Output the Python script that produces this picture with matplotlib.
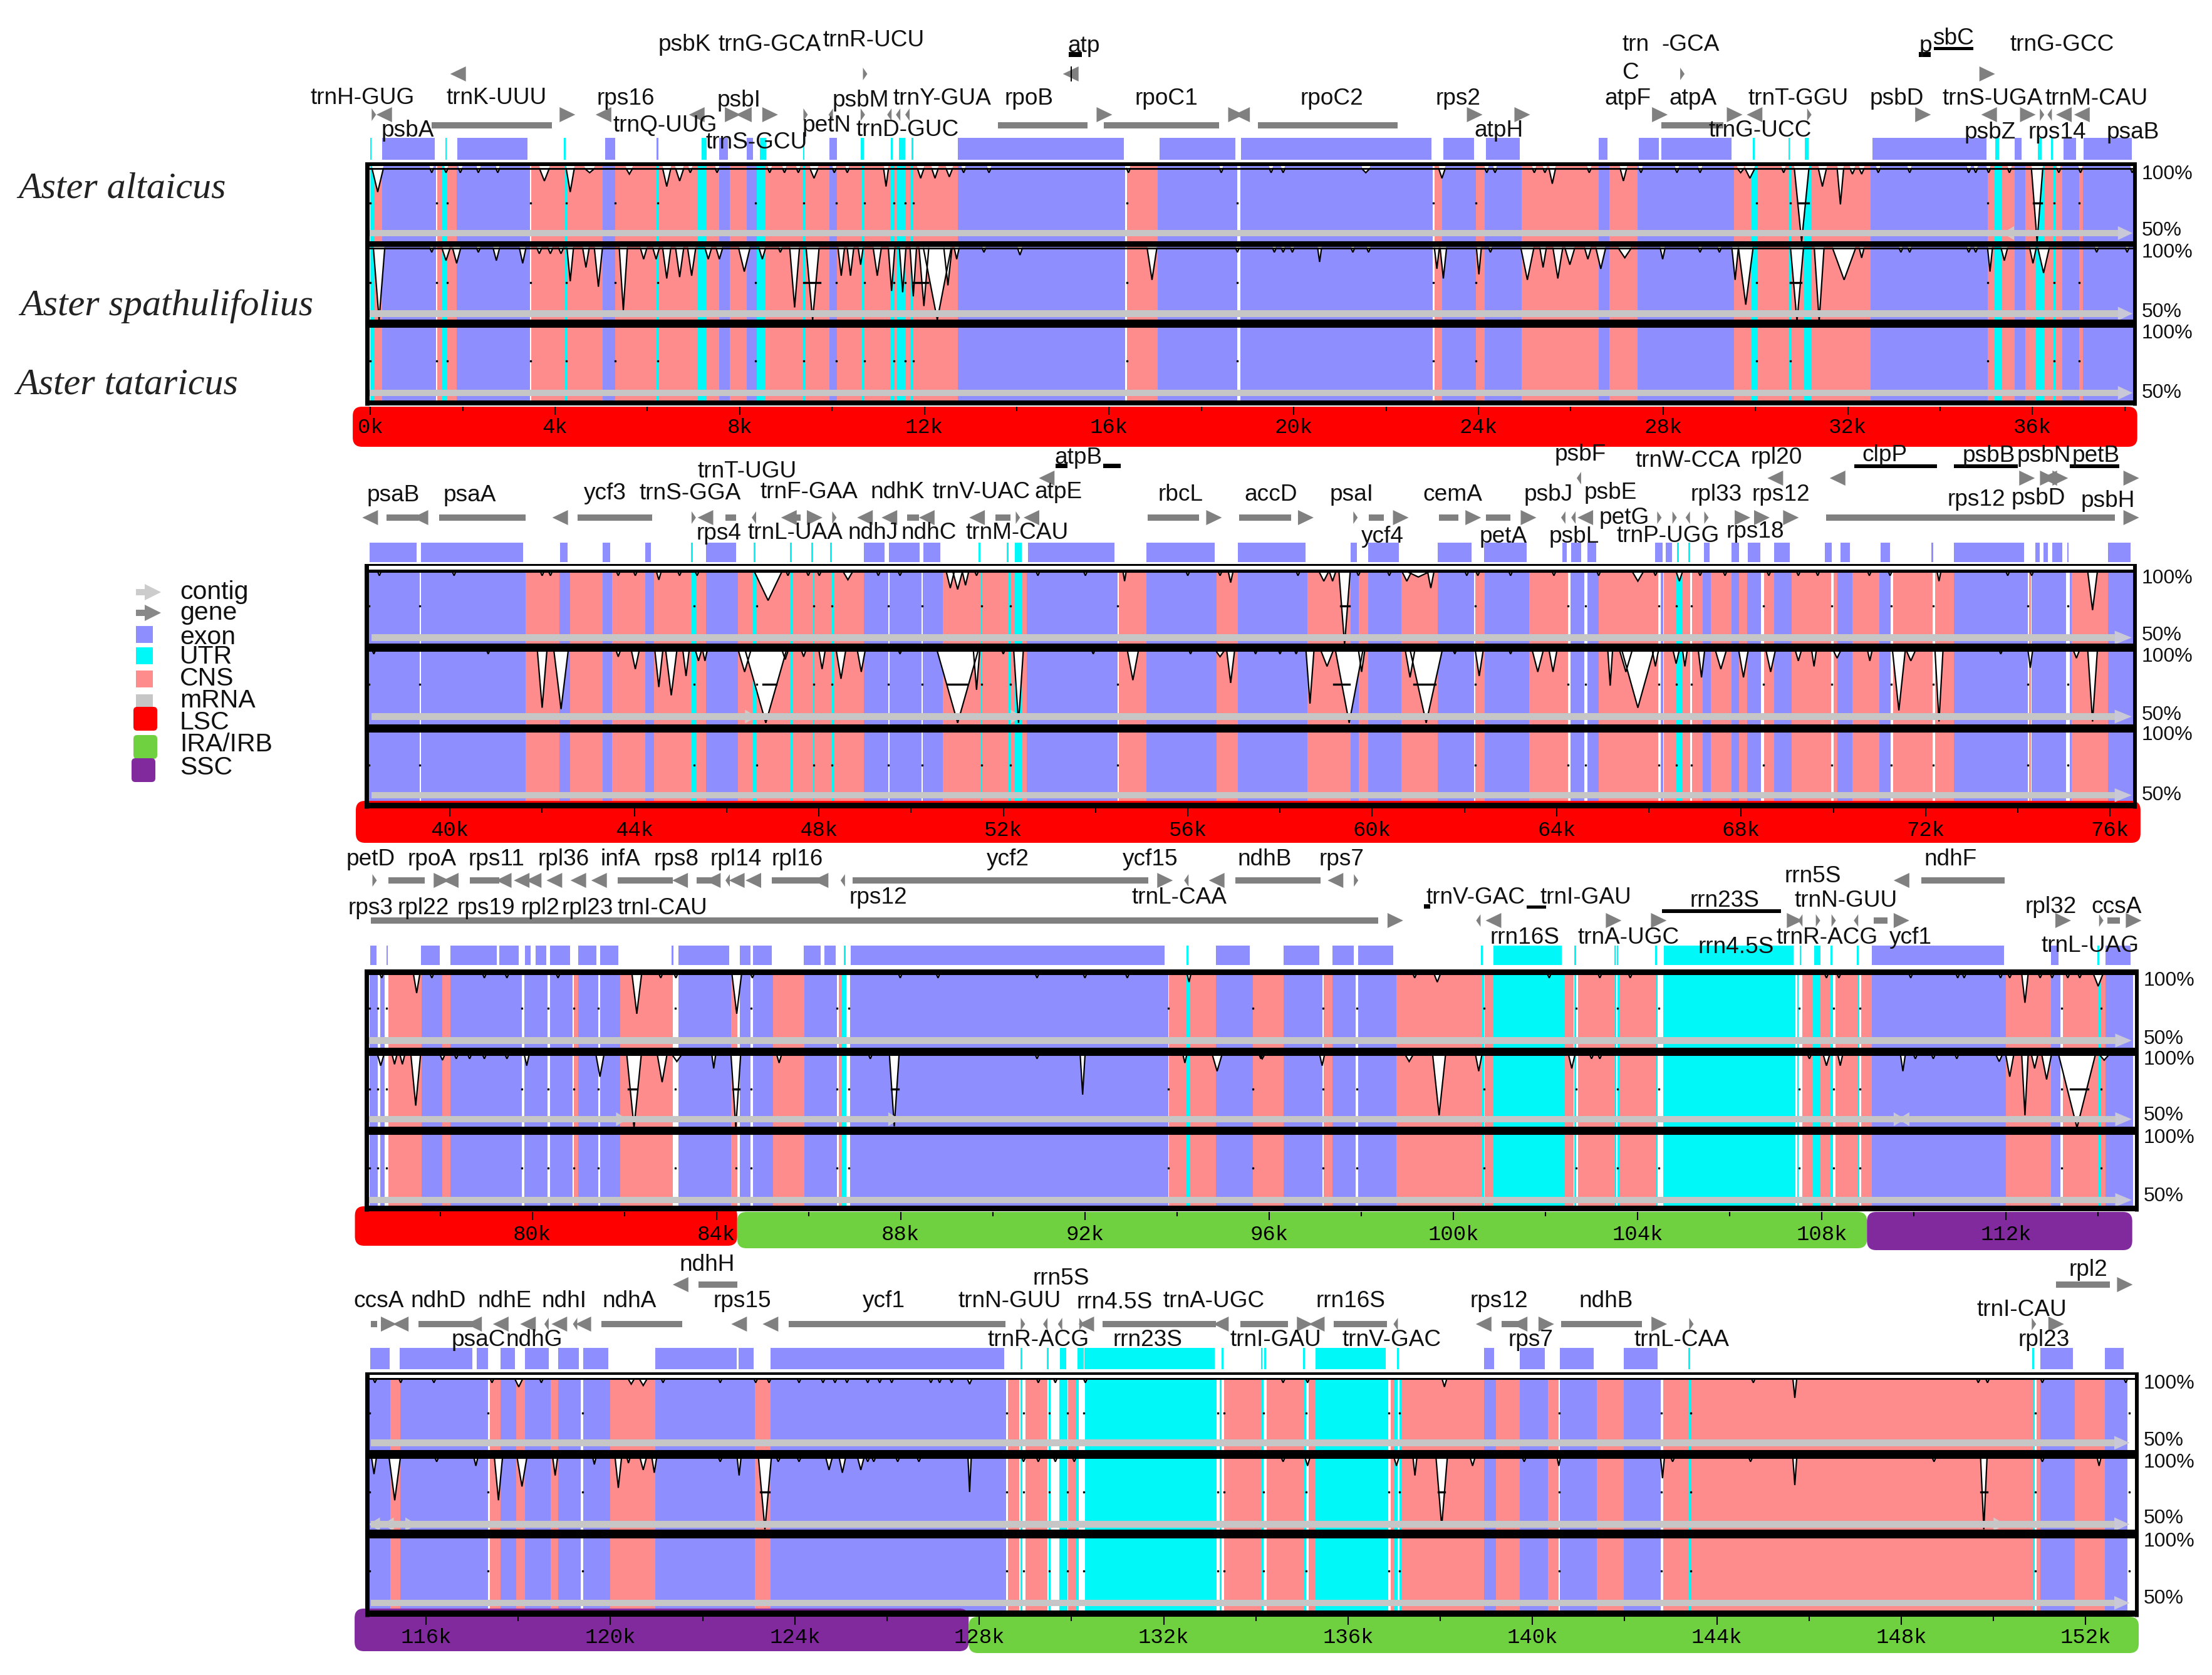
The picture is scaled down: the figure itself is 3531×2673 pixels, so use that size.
import matplotlib
matplotlib.use('Agg')
import matplotlib.pyplot as plt
from matplotlib.patches import Rectangle, FancyBboxPatch, Polygon

W, H = 3531, 2673
PX_PER_KB = 73.7
plt.rcParams['font.family'] = ['Liberation Sans', 'DejaVu Sans']

BLUE = '#8e8eff'
PINK = '#ff8c8c'
CYAN = '#00f8f8'
GREY = '#c6c6c6'
GENE = '#808080'
RED = '#ff0000'
GREEN = '#6fd140'
PURPLE = '#802a9e'

species = ['Aster altaicus', 'Aster spathulifolius', 'Aster tataricus']

# ---------- panel 1 (0k - 38k) ----------
p1_exon = [(0.25,1.42),(1.87,3.46),(5.03,5.31),(7.56,7.79),(8.15,8.37),(9.95,10.11),(12.73,16.35),(17.06,18.78),
           (18.84,23.01),(23.21,23.95),(24.13,24.93),(26.60,26.83),(27.45,29.53),(32.50,35.03),(35.62,35.85),
           (36.64,37.01),(37.09,38.24)]
p1_cns = [(0.08,0.25),(1.45,1.56),(1.67,1.87),(3.49,4.21),(4.27,5.03),(5.31,6.19),(6.25,7.09),(7.28,7.56),(7.79,8.15),
          (8.55,9.36),(9.43,9.95),(10.11,10.64),(10.70,11.26),(11.34,11.40),(11.58,11.70),(11.76,12.73),(16.39,17.06),
          (23.05,23.21),(23.95,24.13),(24.93,26.60),(26.83,27.45),(29.53,29.91),(30.04,30.72),(30.79,31.04),(31.22,32.50),
          (35.03,35.16),(35.34,35.62),(35.85,36.08),(36.27,36.44),(36.50,36.64),(37.01,37.09)]
p1_utr = [(0.0,0.08),(1.56,1.67),(4.21,4.27),(6.19,6.25),(7.09,7.28),(8.37,8.55),(9.36,9.43),(10.64,10.70),(11.26,11.34),
          (11.40,11.58),(11.70,11.76),(29.91,30.04),(30.72,30.79),(31.04,31.22),(35.16,35.34),(36.08,36.27),(36.44,36.50)]
p1_row_exon = [(0.25,1.39),(1.89,3.40),(5.08,5.30),(6.20,6.24),(7.56,7.74),(8.15,8.29),(9.95,10.10),(12.73,16.32),
               (17.09,18.74),(18.86,22.98),(23.24,23.90),(24.16,24.89),(26.61,26.80),(27.48,27.91),(27.96,29.48),
               (32.54,35.00),(35.62,35.77),(36.67,36.95),(37.10,38.15)]
p1_row_utr = [(0.0,0.03),(1.62,1.66),(4.19,4.23),(7.17,7.29),(8.44,8.57),(9.37,9.40),(10.62,10.69),(11.27,11.31),
              (11.45,11.58),(11.72,11.76),(29.94,29.98),(30.71,30.75),(31.07,31.15),(35.19,35.28),(36.11,36.20),(36.40,36.44)]
p1_gaps = [0.0,1.44,1.67,3.47,4.24,5.31,6.23,8.34,9.39,10.09,10.70,11.34,11.58,11.76,16.39,18.78,23.02,23.95,30.02,30.76,
           35.03,36.47,37.01,38.21]
p1_t1_tiny = [1.33,1.64,1.95,2.34,2.76,6.93,7.51,8.65,8.97,9.27,10.05,10.33,12.85,13.40,16.42,18.43,19.51,19.77,24.18,24.36,
              25.21,25.44,26.40,27.52,28.30,28.80,30.61,32.66,33.34,34.62,34.77,35.05,35.50,36.57,37.04,38.16]
p1_t1_dips = [(0.16,83,0.35),(3.77,91,0.3),(4.33,83,0.25),(4.75,97,0.3),(5.61,96,0.2),(6.42,87,0.25),(6.70,91,0.25),
              (9.61,93,0.25),(11.17,87,0.15),(11.92,93,0.2),(12.23,93,0.2),(12.54,94,0.2),(21.56,97,0.25),(23.21,93,0.2),
              (25.60,89,0.2),(27.14,91,0.2),(29.68,97,0.2),(29.88,93,0.3),(31.00,47,0.45),(31.45,87,0.25),(31.84,74,0.2),
              (32.10,96,0.15),(32.30,96,0.15),(36.10,47,0.35)]
p1_t2_tiny = [1.33,2.34,8.88,13.29,18.78,19.58,19.77,19.97,21.28,21.62,24.26,28.80,29.22,33.15,33.34,34.62,34.77,37.39,38.05]
p1_t2_dips = [(0.19,48,0.35),(1.64,91,0.25),(1.87,89,0.25),(2.73,91,0.2),(3.30,89,0.2),(3.66,96,0.15),(3.90,96,0.15),(4.13,96,0.15),
              (4.33,76,0.2),(4.67,86,0.2),(4.94,72,0.25),(5.48,55,0.25),(5.92,92,0.2),(6.19,92,0.2),(6.42,78,0.25),(6.70,79,0.25),
              (6.96,80,0.25),(7.32,92,0.2),(7.56,92,0.2),(8.10,83,0.35),(8.49,92,0.2),(9.19,57,0.3),(9.58,48,0.4),(10.20,80,0.2),
              (10.40,80,0.2),(10.62,88,0.15),(10.98,80,0.25),(11.29,69,0.2),(11.53,68,0.2),(11.76,65,0.2),(12.28,48,0.6),(11.99,58,0.3),
              (12.51,73,0.25),(12.70,92,0.15),(14.07,95,0.15),(16.93,77,0.3),(20.56,90,0.12),(23.10,85,0.15),(23.24,78,0.2),(24.01,81,0.15),
              (25.06,77,0.4),(25.40,86,0.2),(25.72,78,0.3),(25.98,88,0.3),(26.37,92,0.2),(26.65,85,0.3),(27.17,93,0.4),(27.99,92,0.15),
              (29.56,77,0.2),(29.79,59,0.45),(30.90,47,0.4),(31.38,47,0.3),(31.92,77,0.5),(32.30,93,0.15),(35.08,83,0.15),(35.39,91,0.2),
              (36.01,89,0.2),(36.24,82,0.35)]
p1_t1_lines = [(30.92,31.15),(36.02,36.2)]
p1_t2_lines = [(9.43,9.74),(11.76,12.07),(30.76,30.99)]

p1_labels = [('psbK',6.81,71),('trnG-GCA',8.65,71),('trnR-UCU',10.90,64),('atp',15.45,73),('trnH-GUG',-0.17,156),('trnK-UUU',2.73,156),
             ('rps16',5.53,157),('psbI',7.99,160),('psbM',10.62,160),('trnY-GUA',12.38,157),('rpoB',14.27,157),('psbA',0.81,208),
             ('trnQ-UUG',6.39,200),('trnS-GCU',8.37,227),('petN',9.89,200),('trnD-GUC',11.64,207),('rpoC1',17.24,157),('rpoC2',20.82,157),
             ('rps2',23.56,157),('atpH',24.44,208),('trn',27.40,71),('-GCA',28.60,71),('C',27.29,116),('atpF',27.23,157),('atpA',28.65,157),
             ('trnT-GGU',30.93,157),('trnG-UCC',30.10,208),('psbD',33.06,157),('p',33.68,73),('sbC',34.29,61),('trnG-GCC',36.64,71),
             ('trnS-UGA',35.13,157),('trnM-CAU',37.38,157),('psbZ',35.08,211),('rps14',36.54,211),('psaB',38.18,211)]
p1_bars = [(1.33,3.94,200),(13.60,15.53,200),(15.88,18.38,200),(19.23,22.25,200),(27.96,29.30,200)]
p1_arrows = [(4.10,1,183),(7.68,1,183),(8.49,1,183),(15.73,1,183),(18.58,1,183),(23.75,1,183),(24.78,1,183),(27.76,1,183),(29.38,1,183),
             (33.46,1,183),(35.73,1,183),(0.47,-1,183),(5.22,-1,183),(7.24,-1,183),(8.26,-1,183),(19.05,-1,183),(30.15,-1,183),(36.85,-1,183),
             (37.24,-1,183),(35.23,-1,183),(2.07,-1,118),(15.34,-1,118),(34.85,1,118)]
p1_thin = [(0.03,1,183),(9.38,1,183),(10.02,-1,183),(10.62,1,183),(11.29,-1,183),(11.48,-1,183),(11.68,-1,183),(31.12,1,183),(36.16,1,183),
           (36.42,-1,183),(10.67,1,118),(28.37,1,118)]
p1_black = [(15.13,15.41,83,91),(33.54,33.80,83,91),(33.86,34.72,75,80),(15.17,15.19,106,130)]
p1_contig = [(-1,0,35.60)]

# ---------- panel 2 (38k - 76k) ----------
p2_exon = [(38.25,39.34),(39.37,41.64),(42.37,42.61),(43.31,43.52),(44.24,44.42),(45.56,46.24),(48.98,49.51),(49.54,50.23),(50.26,50.69),
           (52.51,54.48),(55.10,56.63),(57.08,58.60),(59.53,59.71),(59.91,60.63),(61.42,62.21),(62.44,63.40),(64.30,64.60),(64.66,64.91),
           (66.25,66.31),(67.16,67.34),(67.79,67.96),(68.13,68.43),(68.71,69.10),(70.08,70.41),(71.00,71.24),(72.62,74.21),(74.30,75.05),
           (75.12,75.17),(75.95,76.52)]
p2_cns = [(41.64,42.37),(42.61,43.31),(43.52,44.24),(44.42,45.24),(45.33,45.56),(46.24,46.57),(46.64,47.39),(47.43,47.86),(47.90,48.27),
          (48.32,48.98),(50.69,51.50),(51.55,52.10),(52.16,52.25),(52.40,52.51),(54.51,55.10),(56.63,57.08),(58.60,59.53),(59.71,59.91),
          (60.63,61.42),(62.24,62.44),(63.40,64.24),(64.91,66.20),(66.33,66.60),(66.72,66.90),(66.94,67.16),(67.34,67.79),(67.96,68.13),
          (68.50,68.71),(69.10,69.95),(70.00,70.08),(70.41,71.00),(71.29,72.15),(72.20,72.62),(74.24,74.28),(75.17,75.95)]
p2_utr = [(45.24,45.33),(46.57,46.64),(47.39,47.43),(47.86,47.90),(48.27,48.32),(51.50,51.55),(52.10,52.16),(52.25,52.40),(66.60,66.72)]
p2_row_exon = [(38.26,39.28),(39.37,41.59),(42.39,42.55),(43.31,43.47),(44.24,44.36),(45.56,46.20),(48.98,49.43),(49.52,50.19),(50.27,50.63),
               (52.53,54.41),(55.10,56.58),(57.08,58.56),(59.53,59.67),(59.91,60.58),(61.42,62.15),(62.42,63.35),(64.12,64.22),(64.32,64.53),
               (64.66,64.86),(66.14,66.29),(66.36,66.50),(67.19,67.31),(67.79,67.96),(68.14,68.41),(68.71,69.06),(69.82,69.96),(70.15,70.36),
               (71.02,71.23),(72.13,72.16),(72.62,74.14),(74.38,74.48),(74.55,74.65),(74.75,74.97),(75.07,75.10),(75.95,76.44)]
p2_row_utr = [(45.23,45.27),(46.58,46.62),(47.37,47.41),(47.83,47.87),(48.24,48.28),(51.46,51.50),(52.08,52.12),(52.25,52.40),(66.61,66.65),(66.85,66.89)]
p2_gaps = [38.25,39.35,45.30,46.65,47.89,48.29,49.51,50.24,51.53,52.16,54.48,62.23,64.25,64.62,66.21,66.59,66.92,68.49,69.97,71.26,72.17,74.21,75.08]
p2_t1_tiny = [38.47,40.09,42.00,42.18,43.65,44.02,44.98,45.36,47.33,47.77,48.01,49.29,49.76,51.42,52.75,53.78,56.00,56.70,58.39,59.70,60.37,
              62.05,62.29,63.00,63.94,64.91,66.14,67.11,67.65,68.60,69.24,69.66,70.78,71.23,73.78,74.30]
p2_t1_dips = [(44.53,94,0.15),(46.90,79,0.6),(48.63,94,0.3),(50.85,88,0.25),(51.01,87,0.3),(51.18,90,0.2),(54.63,93,0.1),(56.93,92,0.15),(58.95,93,0.3),
              (59.14,93,0.2),(59.40,47,0.35),(60.75,93,0.3),(61.00,96,0.5),(61.27,88,0.2),(65.76,93,0.35),(66.66,93,0.2),(72.29,93,0.12),(75.62,72,0.3)]
p2_t2_tiny = [38.35,40.83,49.76,52.00,53.95,56.06,57.47,58.00,58.35,61.79,63.00,73.63]
p2_t2_dips = [(42.00,58,0.3),(42.41,57,0.45),(43.65,95,0.15),(44.02,86,0.25),(44.53,73,0.25),(44.80,67,0.35),(45.12,81,0.2),(45.39,92,0.2),(45.53,92,0.15),
              (46.39,84,0.4),(46.85,47,0.9),(47.27,93,0.2),(47.67,95,0.15),(48.07,86,0.2),(48.48,79,0.3),(48.92,84,0.25),(51.01,47,0.9),(51.42,71,0.2),
              (52.33,47,0.3),(54.81,78,0.35),(56.70,95,0.3),(56.93,76,0.25),(58.65,61,0.25),(59.02,88,0.4),(59.50,47,0.6),(59.77,84,0.2),(60.82,80,0.3),
              (61.17,47,0.7),(62.32,81,0.25),(63.59,84,0.35),(63.92,84,0.25),(65.16,74,0.15),(65.76,58,0.7),(65.50,84,0.4),(66.14,88,0.2),(66.59,90,0.2),
              (66.78,88,0.15),(67.14,80,0.2),(67.56,86,0.35),(68.05,80,0.3),(68.64,84,0.3),(69.24,92,0.2),(69.58,88,0.15),(70.08,94,0.25),(70.79,92,0.15),
              (71.42,56,0.4),(71.68,92,0.3),(72.29,48,0.25),(74.27,87,0.15),(75.27,94,0.2),(75.62,48,0.3)]
p2_t1_lines = [(59.32,59.50)]
p2_t2_lines = [(46.79,47.08),(50.80,51.20),(59.17,59.50),(60.90,61.37)]

p2_labels = [('psaB',38.77,790),('psaA',40.43,790),('ycf3',43.36,787),('trnS-GGA',45.21,787),('trnT-UGU',46.45,752),('trnF-GAA',47.79,785),('ndhK',49.70,785),
             ('trnV-UAC',51.52,785),('atpE',53.19,785),('atpB',53.63,730),('rps4',45.83,851),('trnL-UAA',47.49,850),('ndhJ',49.17,850),('ndhC',50.39,850),
             ('trnM-CAU',52.30,850),('rbcL',55.85,789),('accD',57.80,789),('psaI',59.55,789),('cemA',61.75,789),('psbJ',63.82,789),('psbE',65.16,786),
             ('rpl33',67.46,789),('rps12',68.86,789),('psbF',64.52,725),('trnW-CCA',66.84,735),('rpl20',68.76,730),('clpP',71.11,726),('psbB',73.37,727),
             ('psbN',74.57,727),('petB',75.69,727),('rps12',73.10,797),('psbD',74.45,795),('psbH',75.95,799),('ycf4',60.22,856),('petA',62.84,856),
             ('psbL',64.38,856),('petG',65.46,826),('trnP-UGG',66.41,855),('rps18',68.31,848)]
p2_bars = [(38.62,39.32,826),(39.77,41.64,826),(42.77,44.39,826),(45.98,46.20,826),(47.45,47.60,826),(49.91,50.17,826),(51.83,52.16,826),
           (55.13,56.25,826),(57.11,58.24,826),(59.92,60.25,826),(61.45,61.87,826),(62.47,63.00,826),(69.84,76.10,826)]
p2_arrows = [(38.44,-1,826),(39.53,-1,826),(42.56,-1,826),(45.71,-1,826),(47.52,-1,826),(47.74,1,826),(49.17,-1,826),(49.70,-1,826),(50.51,-1,826),
             (51.60,-1,826),(52.78,-1,826),(53.11,-1,763),(56.40,1,826),(58.39,1,826),(60.45,1,826),(62.02,1,826),(63.22,1,826),(68.91,1,826),(76.29,1,826),
             (67.86,1,826),(68.28,1,826),(64.79,-1,826),(68.91,-1,763),(70.26,-1,763),(74.03,1,763),(74.48,1,763),(74.75,1,763),(74.85,-1,763),(76.29,1,763)]
p2_thin = [(45.24,1,826),(46.64,-1,826),(48.29,1,826),(52.27,1,826),(64.19,-1,826),(64.41,-1,826),(59.59,1,826),(66.18,1,826),(66.51,1,826),(66.89,-1,826),
           (67.20,1,826),(64.53,-1,763)]
p2_black = [(53.14,53.39,740,747),(54.17,54.54,740,747),(70.45,72.25,741,747),(72.62,74.00,741,747),(75.12,76.20,741,747)]
p2_contig = [(1,1,46.40),(1,1,52.16)]

# ---------- panel 3 (76k - 114k) ----------
p3_exon = [(76.47,76.65),(76.70,76.80),(77.60,78.04),(78.23,79.78),(79.83,80.33),(80.39,80.88),(81.00,81.43),(81.48,81.91),(83.18,84.32),(84.51,84.74),
           (84.79,85.23),(85.91,86.62),(86.90,93.81),(94.84,95.65),(96.31,97.16),(97.37,97.88),(97.93,98.76),(109.09,111.99),(112.97,113.18),(114.16,114.76)]
p3_cns = [(76.88,77.60),(78.04,78.23),(80.90,81.00),(81.91,83.05),(84.32,84.45),(85.23,85.91),(86.65,86.71),(93.83,94.20),(94.27,94.84),(95.65,96.31),(97.19,97.37),
          (98.76,100.62),(100.68,100.87),(102.41,102.61),(102.71,103.49),(103.60,104.40),(107.58,107.81),(107.95,108.17),(108.29,108.77),(108.85,109.09),
          (111.99,112.97),(113.23,113.99),(114.07,114.16)]
p3_utr = [(86.71,86.82),(94.20,94.27),(100.62,100.66),(100.87,102.41),(102.62,102.67),(103.49,103.53),(103.56,103.60),(104.40,104.44),(104.55,107.42),(107.47,107.50),
          (107.81,107.95),(108.17,108.24),(108.77,108.82),(114.00,114.07)]
p3_row_exon = [(76.48,76.62),(76.84,76.87),(77.58,77.99),(78.23,79.23),(79.29,79.70),(79.84,79.97),(80.08,80.30),(80.39,80.82),(81.00,81.39),(81.47,81.87),(83.03,83.06),
               (83.18,84.27),(84.51,84.74),(84.79,85.20),(85.90,86.26),(86.35,86.59),(86.91,93.73),(94.84,95.58),(96.31,97.09),(97.37,97.84),(97.93,98.70),(109.09,111.95),
               (112.97,113.14),(114.16,114.70)]
p3_row_utr = [(86.77,86.81),(94.20,94.24),(100.60,100.64),(100.87,102.35),(102.63,102.67),(103.49,103.52),(103.55,103.58),(104.38,104.42),(104.57,107.38),(107.52,107.55),
              (107.84,107.97),(108.19,108.23),(108.76,108.80),(113.98,114.02)]
p3_gaps = [76.47,76.65,76.83,79.78,80.35,80.90,81.44,83.10,84.43,84.75,86.62,86.88,93.81,95.65,97.17,97.90,100.66,102.67,103.56,104.46,107.51,108.26,108.83,113.21,114.07]
p3_t1_tiny = [76.73,77.82,78.96,79.45,80.56,82.79,83.12,84.78,87.99,88.81,90.96,92.00,92.92,99.16,102.08,103.18,103.84,108.10,108.37,109.93,110.95,111.09,111.88,112.08,112.74,
              113.00,113.34,113.60]
p3_t1_dips = [(77.49,86,0.2),(82.27,71,0.3),(84.44,71,0.3),(94.26,94,0.12),(99.65,94,0.2),(112.41,79,0.2),(114.00,91,0.3)]
p3_t2_tiny = [78.35,78.64,78.96,79.45,87.34,90.96,95.82,103.00,103.18,107.73,110.03,110.42,110.93]
p3_t2_dips = [(76.71,92,0.2),(77.01,93,0.15),(77.18,93,0.15),(77.47,63,0.3),(78.05,96,0.15),(79.88,92,0.15),(81.47,84,0.25),(82.21,47,0.45),(82.82,80,0.3),(83.14,95,0.3),
              (83.94,90,0.12),(84.42,47,0.3),(85.36,94,0.15),(87.86,48,0.3),(91.95,71,0.15),(94.17,94,0.12),(94.87,88,0.3),(95.85,97,0.15),(97.15,92,0.15),(99.04,95,0.25),(99.69,56,0.4),
              (100.55,88,0.2),(102.57,90,0.2),(108.10,92,0.2),(108.40,92,0.15),(109.76,88,0.15),(111.85,95,0.2),(112.08,84,0.25),(112.41,56,0.2),(112.62,90,0.2),(112.88,82,0.3),
              (113.54,47,0.8),(114.13,96,0.3)]
p3_t1_lines = []
p3_t2_lines = [(82.08,82.27),(84.36,84.50),(87.80,87.95),(113.40,113.78)]

p3_labels = [('petD',76.49,1371),('rpoA',77.82,1371),('rps11',79.22,1371),('rpl36',80.68,1371),('infA',81.92,1371),('rps8',83.13,1371),('rpl14',84.42,1371),('rpl16',85.75,1371),
             ('ycf2',90.33,1371),('ycf15',93.42,1371),('ndhB',95.90,1371),('rps7',97.57,1371),('rps3',76.49,1449),('rpl22',77.64,1449),('rps19',79.00,1449),('rpl2',80.17,1449),
             ('rpl23',81.20,1449),('trnI-CAU',82.82,1449),('rps12',87.51,1432),('trnL-CAA',94.05,1432),('trnV-GAC',100.49,1432),('trnI-GAU',102.87,1432),('rrn23S',105.89,1437),
             ('rrn5S',107.81,1398),('trnN-GUU',108.52,1437),('ndhF',110.80,1371),('rpl32',112.97,1447),('ccsA',114.40,1447),('rrn16S',101.55,1496),('trnA-UGC',103.80,1496),
             ('rrn4.5S',106.14,1511),('trnR-ACG',108.11,1496),('ycf1',109.93,1496),('trnL-UAG',113.83,1509)]
p3_bars = [(76.88,77.66,1405),(78.64,79.29,1405),(81.86,83.05,1405),(83.57,83.96,1405),(85.20,86.30,1405),(86.95,93.38,1405),(95.26,97.11,1405),(110.16,111.97,1405),
           (76.49,98.37,1469),(109.13,109.43,1469),(114.20,114.47,1469)]
p3_arrows = [(77.86,1,1405),(93.57,1,1405),(78.40,-1,1405),(79.55,-1,1405),(79.94,-1,1405),(80.20,-1,1405),(80.65,-1,1405),(81.17,-1,1405),(81.62,-1,1405),(83.38,-1,1405),(84.09,-1,1405),
             (84.61,-1,1405),(84.97,-1,1405),(86.43,-1,1405),(95.03,-1,1405),(97.61,-1,1405),(109.90,-1,1405),(98.57,1,1469),(101.04,-1,1469),(103.31,1,1469),(104.29,1,1469),
             (107.24,1,1469),(109.56,1,1469),(113.07,1,1469),(114.60,1,1469)]
p3_thin = [(76.53,1,1405),(84.29,-1,1405),(86.79,-1,1405),(94.25,-1,1405),(97.84,1,1405),(100.59,-1,1469),(107.58,-1,1469),(107.87,1,1469),(108.21,1,1469),(108.79,-1,1469),(114.02,1,1469)]
p3_black = [(99.36,99.49,1443,1450),(101.59,102.01,1445,1450),(104.53,107.12,1451,1457)]
p3_contig = [(1,1,81.82),(1,1,87.73),(1,1,109.56),(-1,1,109.90)]

# ---------- panel 4 (115k - 153k) ----------
p4_exon = [(114.78,115.23),(115.44,117.34),(117.61,117.96),(118.15,118.70),(118.86,119.35),(119.41,120.00),(120.97,123.13),(123.47,128.58),(138.95,139.21),(139.73,140.33),(140.60,141.39),
           (141.98,142.78),(151.02,151.76),(152.41,152.91)]
p4_cns = [(115.23,115.44),(117.38,117.61),(117.96,118.15),(118.70,118.86),(120.00,120.97),(123.13,123.47),(128.62,128.87),(129.00,129.48),(129.93,130.10),(133.31,134.11),(134.23,135.04),
          (135.15,135.29),(136.92,137.01),(137.15,138.95),(139.21,139.73),(140.33,140.56),(141.39,141.98),(142.83,143.39),(143.45,150.86),(150.93,151.02),(151.76,152.41)]
p4_utr = [(128.90,128.94),(129.50,129.54),(129.74,129.91),(130.10,130.16),(130.30,133.15),(133.22,133.26),(134.11,134.16),(135.04,135.09),(135.29,136.87),(137.01,137.07),(137.11,137.15),
          (143.40,143.45),(150.86,150.90)]
p4_row_exon = [(114.79,115.21),(115.43,117.01),(117.10,117.34),(117.61,117.93),(118.15,118.66),(118.86,119.31),(119.41,119.95),(120.97,122.74),(122.78,123.10),(123.47,128.54),(138.95,139.17),
               (139.73,140.27),(140.60,141.33),(141.98,142.72),(151.02,151.72),(152.41,152.82)]
p4_row_utr = [(128.90,128.94),(129.46,129.50),(129.75,129.88),(130.13,130.26),(130.28,133.10),(133.25,133.29),(134.11,134.14),(134.18,134.22),(135.02,135.06),(135.29,136.81),(137.06,137.10),
              (143.38,143.42),(150.84,150.88)]
p4_gaps = [114.78,117.35,119.39,128.60,128.96,129.52,129.91,130.27,133.18,133.31,134.16,135.09,136.88,137.12,140.58,142.79,143.43,150.91,152.95]
p4_t1_tiny = [114.89,115.45,116.17,117.43,118.50,121.14,122.38,123.15,123.44,124.09,124.61,124.87,125.13,125.58,125.84,126.10,126.95,127.14,127.40,129.28,129.65,130.30,134.59,135.12,144.79,149.67,
              149.87,151.06,152.87]
p4_t1_dips = [(118.01,94,0.25),(120.45,96,0.2),(120.71,95,0.25),(127.79,96,0.15),(138.09,94,0.15),(145.69,86,0.12)]
p4_t2_tiny = [116.23,122.38,123.64,124.09,125.58,125.71,126.23,126.69,128.96,129.28,129.65,130.06,134.59,139.82,143.04,144.73,148.71,151.06]
p4_t2_dips = [(114.87,88,0.15),(115.32,69,0.35),(117.08,94,0.12),(117.57,69,0.25),(118.08,79,0.3),(118.80,87,0.15),(119.65,95,0.1),(120.17,78,0.2),(120.39,96,0.1),(120.71,91,0.2),(120.95,89,0.15),
              (122.79,87,0.12),(123.35,48,0.4),(124.74,91,0.2),(125.03,89,0.2),(125.43,91,0.2),(127.79,75,0.1),(135.12,94,0.15),(137.05,94,0.15),(137.45,87,0.12),(138.03,50,0.35),(138.70,94,0.15),
              (140.57,94,0.1),(142.82,85,0.12),(145.69,80,0.12),(149.79,48,0.2),(152.29,94,0.12)]
p4_t1_lines = []
p4_t2_lines = [(123.25,123.44),(137.96,138.10),(149.72,149.86)]

p4_labels = [('ndhH',122.10,2018),('ccsA',114.97,2077),('ndhD',116.26,2077),('ndhE',117.70,2077),('ndhI',119.00,2077),('ndhA',120.41,2077),('rps15',122.86,2077),('ycf1',125.93,2077),
             ('trnN-GUU',128.66,2077),('rrn5S',129.77,2040),('rrn4.5S',130.93,2079),('trnA-UGC',133.09,2077),('psaC',117.14,2139),('ndhG',118.34,2139),('trnR-ACG',129.28,2139),('rrn23S',131.65,2139),
             ('trnI-GAU',134.43,2139),('rrn16S',136.06,2077),('rps12',139.27,2077),('ndhB',141.59,2077),('trnV-GAC',136.95,2139),('rps7',139.96,2139),('trnL-CAA',143.24,2139),('rpl2',152.05,2026),
             ('trnI-CAU',150.62,2090),('rpl23',151.09,2139)]
p4_bars = [(114.80,114.94,2113),(115.84,117.01,2113),(119.80,121.56,2113),(123.86,128.57,2113),(130.67,133.14,2113),(133.66,134.70,2113),(135.69,136.84,2113),(139.33,139.73,2113),(140.62,142.38,2113),
           (121.91,122.75,2050),(151.36,152.52,2050)]
p4_arrows = [(115.02,1,2113),(115.62,-1,2113),(117.21,-1,2113),(117.79,-1,2113),(118.38,-1,2113),(119.06,-1,2113),(119.58,-1,2113),(122.96,-1,2113),(123.64,-1,2113),(130.49,-1,2113),(133.41,-1,2113),
             (134.89,1,2113),(135.49,-1,2113),(139.11,-1,2113),(139.89,-1,2113),(140.13,1,2113),(142.58,1,2113),(151.19,1,2113),(121.69,-1,2050),(152.68,1,2050)]
p4_thin = [(118.66,-1,2113),(119.28,-1,2113),(128.90,1,2113),(129.48,-1,2113),(129.80,-1,2113),(130.17,1,2113),(137.08,-1,2113),(143.40,1,2113),(150.83,1,2113)]
p4_black = []
p4_contig = [(-1,1,115.00),(-1,1,115.30),(1,1,115.55),(1,1,150.00)]

# legend
legend_names = ['contig', 'gene', 'exon', 'UTR', 'CNS', 'mRNA', 'LSC', 'IRA/IRB', 'SSC']
legend_y = [945, 978, 1017, 1048, 1083, 1118, 1153, 1188, 1225]

# region bars and layout, one row per panel
regions = [
    [(-0.38, 38.27, RED, 649, 713)],
    [(37.96, 76.66, RED, 1278, 1345)],
    [(76.15, 84.45, RED, 1925, 1988), (84.45, 108.98, GREEN, 1934, 1992), (108.98, 114.74, PURPLE, 1934, 1995)],
    [(114.45, 127.77, PURPLE, 2567, 2635), (127.77, 153.15, GREEN, 2580, 2638)],
]
ticks = [range(0, 39, 2), range(40, 77, 2), range(78, 115, 2), range(116, 153, 2)]
tick_y = [649, 1290, 1934, 2580]
label_y = [682, 1325, 1970, 2613]
# px left/right, kb left/right
extent = [(583, 3411, -0.11, 38.26), (582, 3411, 38.15, 76.58), (582, 3414, 76.36, 114.88), (583, 3414, 114.68, 153.15)]
# px: top, bottom, y of 100 %, grey bar top, grey bar bottom - three tracks per panel
tracks = [
    [(265, 385, 269, 367, 377), (394, 510, 396, 495, 506), (523, 639, 521, 622, 632)],
    [(914, 1027, 912, 1012, 1023), (1040, 1156, 1037, 1138, 1149), (1169, 1281, 1166, 1264, 1274)],
    [(1556, 1672, 1554, 1655, 1666), (1685, 1798, 1683, 1781, 1791), (1811, 1924, 1809, 1910, 1920)],
    [(2202, 2314, 2200, 2297, 2308), (2328, 2441, 2326, 2427, 2438), (2455, 2570, 2452, 2553, 2563)],
]
# black strips of the frame
strips = [
    [(259, 265), (385, 394), (510, 523), (639, 647)],
    [(900, 903), (909, 914), (1027, 1040), (1156, 1169), (1281, 1290)],
    [(1547, 1556), (1672, 1685), (1798, 1811), (1924, 1933)],
    [(2190, 2194), (2199, 2202), (2314, 2328), (2441, 2455), (2570, 2580)],
]
row_y = [(220, 255), (866, 897), (1509, 1540), (2151, 2185)]
contig_x = [(-0.03, 37.85, 38.17), (38.30, 76.10, 76.47), (76.45, 114.37, 114.73), (114.80, 152.62, 152.95)]
pct_y = [(278, 368, 403, 498, 532, 627), (923, 1014, 1048, 1141, 1173, 1269), (1565, 1658, 1691, 1780, 1816, 1909), (2208, 2299, 2334, 2423, 2460, 2551)]

panels = [
    dict(exon=p1_exon, cns=p1_cns, utr=p1_utr, row_exon=p1_row_exon, row_utr=p1_row_utr, gaps=p1_gaps, tiny=[p1_t1_tiny, p1_t2_tiny, []], dips=[p1_t1_dips, p1_t2_dips, []],
         lines=[p1_t1_lines, p1_t2_lines, []], labels=p1_labels, bars=p1_bars, arrows=p1_arrows, thin=p1_thin, black=p1_black, contig=p1_contig),
    dict(exon=p2_exon, cns=p2_cns, utr=p2_utr, row_exon=p2_row_exon, row_utr=p2_row_utr, gaps=p2_gaps, tiny=[p2_t1_tiny, p2_t2_tiny, []], dips=[p2_t1_dips, p2_t2_dips, []],
         lines=[p2_t1_lines, p2_t2_lines, []], labels=p2_labels, bars=p2_bars, arrows=p2_arrows, thin=p2_thin, black=p2_black, contig=p2_contig),
    dict(exon=p3_exon, cns=p3_cns, utr=p3_utr, row_exon=p3_row_exon, row_utr=p3_row_utr, gaps=p3_gaps, tiny=[p3_t1_tiny, p3_t2_tiny, []], dips=[p3_t1_dips, p3_t2_dips, []],
         lines=[p3_t1_lines, p3_t2_lines, []], labels=p3_labels, bars=p3_bars, arrows=p3_arrows, thin=p3_thin, black=p3_black, contig=p3_contig),
    dict(exon=p4_exon, cns=p4_cns, utr=p4_utr, row_exon=p4_row_exon, row_utr=p4_row_utr, gaps=p4_gaps, tiny=[p4_t1_tiny, p4_t2_tiny, []], dips=[p4_t1_dips, p4_t2_dips, []],
         lines=[p4_t1_lines, p4_t2_lines, []], labels=p4_labels, bars=p4_bars, arrows=p4_arrows, thin=p4_thin, black=p4_black, contig=p4_contig),
]


def pt(px):
    return px * 72 / 100


def px_axes(left, right, top, bottom, zorder):
    ax = fig.add_axes([left / W, 1 - bottom / H, (right - left) / W, (bottom - top) / H])
    ax.set_axis_off()
    ax.set_zorder(zorder)
    return ax


def arrow(ax, x, d, y, w, h, color, alpha=1.0):
    # w and h are pixels, x is kb
    ax.add_patch(Polygon([(x, y - h), (x + d * w / PX_PER_KB, y), (x, y + h)], closed=True, fc=color, ec='none', alpha=alpha, clip_on=False))


def draw_track(ax, p, i):
    for a, b in p['exon']:
        ax.axvspan(a, b, color=BLUE, lw=0)
    for a, b in p['cns']:
        ax.axvspan(a, b, color=PINK, lw=0)
    for a, b in p['utr']:
        ax.axvspan(a, b, color=CYAN, lw=0)
    # narrow dips read wider than they are in the blurred picture
    dips = [(x, 97, 0.08) for x in p['tiny'][i]] + [(x, low, w * 0.7 if w < 0.5 else w) for x, low, w in p['dips'][i]]
    top = ax.get_ylim()[1]
    for x, low, w in dips:
        ax.fill([x - w / 2, x, x + w / 2], [100, low, 100], color='white', lw=0, zorder=3)
        ax.add_patch(Rectangle((x - w / 2, 100), w, top - 100, fc='white', ec='none', zorder=3))
    for x, low, w in dips:
        ax.plot([x - w / 2, x, x + w / 2], [100, low, 100], color='black', lw=1.6, zorder=4, solid_joinstyle='miter')
    ax.plot(ax.get_xlim(), [100, 100], color='black', lw=2.0, zorder=4)
    ax.plot(p['gaps'], [75] * len(p['gaps']), ls='none', marker='s', ms=2.0, color='black', zorder=4)
    for a, b in p['lines'][i]:
        ax.plot([a, b], [75, 75], color='black', lw=2.4, zorder=4)


fig = plt.figure(figsize=(W / 100, H / 100), dpi=100)

for n, p in enumerate(panels):
    left, right, x0, x1 = extent[n]

    # conservation tracks
    for i, (top, bottom, y100, gt, gb) in enumerate(tracks[n]):
        ax = px_axes(left, right, top, bottom, 1)
        ax.set_xlim(x0, x1)
        ax.set_ylim(100 - (bottom - y100) / 2.2, 100 - (top - y100) / 2.2)
        draw_track(ax, p, i)

    # everything else on this panel, y is in image pixels
    an = px_axes(left, right, 0, H, 2)
    an.set_xlim(x0, x1)
    an.set_ylim(H, 0)

    for a, b, c, t, bt in regions[n]:
        an.add_patch(FancyBboxPatch((a, t), b - a, bt - t, boxstyle='round,pad=0,rounding_size=0.2', mutation_aspect=PX_PER_KB, fc=c, ec='none', clip_on=False, zorder=1))
    for k in ticks[n]:
        major = k % 4 == 0
        an.plot([k, k], [tick_y[n], tick_y[n] + (13 if major else 7)], color='black', lw=1.5, clip_on=False, zorder=2, solid_capstyle='butt')
        if major:
            an.text(k, label_y[n], '%dk' % k, family='Liberation Mono', fontsize=pt(34), ha='center', va='center', color='black', clip_on=False, zorder=3)

    # contig bars in each track
    c0, c1, c2 = contig_x[n]
    for top, bottom, y100, gt, gb in tracks[n]:
        an.add_patch(Rectangle((c0, gt), c1 - c0, gb - gt, fc=GREY, ec='none', zorder=2))
        mid = (gt + gb) / 2
        arrow(an, c1, 1, mid, (c2 - c1) * PX_PER_KB, 11, '#c8c8d8')
    for d, tr, x in p['contig']:
        gt, gb = tracks[n][tr][3], tracks[n][tr][4]
        arrow(an, x, d, (gt + gb) / 2, 18, 11, '#cfcfcf', 0.9)

    # frame
    for t, b in strips[n]:
        an.add_patch(Rectangle((x0, t), x1 - x0, b - t, fc='black', ec='none', zorder=5))
    fr_top, fr_bot = strips[n][0][0], strips[n][-1][1]
    an.plot([x0 + 3 / PX_PER_KB] * 2, [fr_top, fr_bot], color='black', lw=5, zorder=5, solid_capstyle='butt')
    an.plot([x1 - 3 / PX_PER_KB] * 2, [fr_top, fr_bot], color='black', lw=5, zorder=5, solid_capstyle='butt')

    # exon / UTR row
    for a, b in p['row_exon']:
        an.add_patch(Rectangle((a, row_y[n][0]), b - a, row_y[n][1] - row_y[n][0], fc=BLUE, ec='none', zorder=2))
    for a, b in p['row_utr']:
        an.add_patch(Rectangle((a, row_y[n][0]), b - a, row_y[n][1] - row_y[n][0], fc=CYAN, ec='none', zorder=2))

    # genes
    for a, b, y in p['bars']:
        an.add_patch(Rectangle((a, y - 5), b - a, 10, fc=GENE, ec='none', zorder=3, clip_on=False))
    for x, d, y in p['arrows']:
        arrow(an, x, d, y, 25, 12, GENE)
    for x, d, y in p['thin']:
        arrow(an, x, d, y, 7, 10, GENE)
    for a, b, t, bt in p['black']:
        an.add_patch(Rectangle((a, t), b - a, bt - t, fc='black', ec='none', zorder=6, clip_on=False))
    for s, x, y in p['labels']:
        an.text(x, y, s, fontsize=pt(37), ha='center', va='center', color='#111111', clip_on=False, zorder=7)

    # percent labels on the right
    for j, y in enumerate(pct_y[n]):
        an.text(x1 + 8 / PX_PER_KB, y, '100%' if j % 2 == 0 else '50%', fontsize=pt(32), ha='left', va='center', color='#111111', clip_on=False, zorder=7)

# legend and species names
lg = px_axes(0, W, 0, H, 3)
lg.set_xlim(0, W)
lg.set_ylim(H, 0)

for name, y in zip(legend_names, legend_y):
    lg.text(287, y, name, fontsize=pt(41), ha='left', va='center', color='#111111')

for y, c in zip(legend_y[:2], ['#cccccc', '#888888']):
    lg.add_patch(Rectangle((217, y - 5), 14, 10, fc=c, ec='none'))
    lg.add_patch(Polygon([(231, y - 13), (257, y), (231, y + 13)], closed=True, fc=c, ec='none'))
lg.add_patch(Rectangle((217, 999), 27, 27, fc=BLUE, ec='none'))
lg.add_patch(Rectangle((217, 1033), 27, 27, fc=CYAN, ec='none'))
lg.add_patch(Rectangle((217, 1070), 27, 27, fc=PINK, ec='none'))
lg.add_patch(Rectangle((217, 1108), 27, 25, fc=GREY, ec='none'))
for (x, y), c in zip([(213, 1128), (213, 1173), (210, 1210)], [RED, GREEN, PURPLE]):
    lg.add_patch(FancyBboxPatch((x, y), 38, 38, boxstyle='round,pad=0,rounding_size=6', fc=c, ec='none'))

for name, x, y in zip(species, [29, 32, 25], [315, 503, 628]):
    lg.text(x, y, name, family='Liberation Serif', style='italic', fontsize=pt(60), ha='left', va='baseline', color='#222222')

fig.savefig('out.png', dpi=100)
